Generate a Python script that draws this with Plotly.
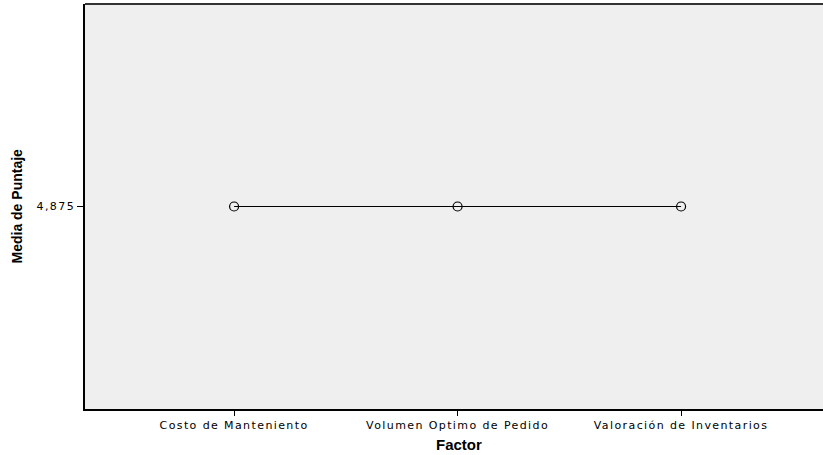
import plotly.graph_objects as go

categories = ["Costo de Manteniento", "Volumen Optimo de Pedido", "Valoración de Inventarios"]
means = [4.875, 4.875, 4.875]
y_ticks = [4.875]

fig = go.Figure()
fig.add_trace(go.Scatter(
    x=list(range(len(categories))), y=means, mode="lines+markers",
    line=dict(color="black", width=1),
    marker=dict(symbol="circle-open", size=9, color="black", line=dict(width=1.2)),
    showlegend=False, hoverinfo="skip"))

tick_font = dict(family="DejaVu Sans, Verdana, sans-serif", size=11, color="black")

fig.update_layout(
    width=823, height=455,
    margin=dict(l=85, r=0, t=4, b=46),
    plot_bgcolor="#efefef", paper_bgcolor="white",
    separators=",.",
    font=dict(family="Liberation Sans, Arial, sans-serif", size=11, color="black"),
    xaxis=dict(
        range=[-0.667, 2.635], tickmode="array",
        tickvals=list(range(len(categories))), ticktext=categories,
        tickfont=tick_font,
        ticks="outside", ticklen=5, tickcolor="black", tickwidth=1,
        showline=True, linecolor="black", linewidth=1.5, mirror=False,
        showgrid=False, zeroline=False, fixedrange=True),
    yaxis=dict(
        range=[4.375, 5.375], tickmode="array", tickvals=y_ticks,
        tickformat=".3f", tickfont=tick_font,
        ticks="outside", ticklen=6, tickcolor="black", tickwidth=1,
        showline=True, linecolor="black", linewidth=1.5,
        showgrid=False, zeroline=False, fixedrange=True),
    annotations=[
        dict(text="<b>Factor</b>", xref="paper", yref="paper", x=(459-85)/738, y=-(445-409)/405,
             xanchor="center", yanchor="middle", showarrow=False,
             font=dict(family="Liberation Sans, Arial, sans-serif", size=15)),
        dict(text="<b>Media de Puntaje</b>", xref="paper", yref="paper", x=-(85-16)/738, y=0.5,
             xanchor="center", yanchor="middle", showarrow=False, textangle=-90,
             font=dict(family="Liberation Sans Narrow, Arial Narrow, sans-serif", size=14)),
    ],
    shapes=[dict(type="line", xref="paper", yref="paper", x0=0, x1=1, y0=1, y1=1,
                 line=dict(color="#333333", width=2))],
)

post = """
document.body.style.margin='0';
var s=document.createElement('style');
s.textContent='.xtick text, .ytick text{letter-spacing:1.4px}';
document.head.appendChild(s);
"""

fig.write_html("out.html", post_script=post, config={"displayModeBar": False})
